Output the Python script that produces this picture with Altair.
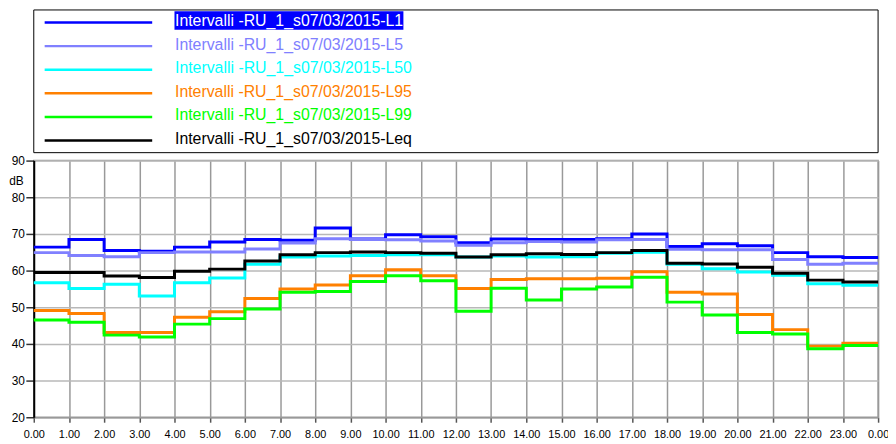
import altair as alt
import pandas as pd

hours = list(range(24))
series_names = [
    "Intervalli -RU_1_s07/03/2015-L1",
    "Intervalli -RU_1_s07/03/2015-L5",
    "Intervalli -RU_1_s07/03/2015-L50",
    "Intervalli -RU_1_s07/03/2015-L95",
    "Intervalli -RU_1_s07/03/2015-L99",
    "Intervalli -RU_1_s07/03/2015-Leq",
]
series_colors = ["#0000FF", "#8080FF", "#00FFFF", "#FF8000", "#00FF00", "#000000"]

L1 = [66.4, 68.5, 65.5, 65.3, 66.4, 67.8, 68.5, 68.3, 71.6, 68.6, 69.8, 69.2,
      67.6, 68.6, 68.5, 68.5, 68.7, 70.0, 66.6, 67.3, 66.8, 64.9, 63.8, 63.6]
L5 = [64.9, 64.1, 63.8, 64.9, 65.1, 65.1, 65.9, 67.5, 68.7, 68.5, 68.4, 68.1,
      66.9, 67.6, 67.9, 67.8, 68.4, 68.5, 65.8, 65.7, 65.7, 63.0, 61.7, 62.0]
L50 = [56.7, 55.1, 56.3, 53.1, 56.7, 58.0, 61.7, 63.7, 64.0, 64.1, 64.3, 64.3,
       63.7, 64.0, 63.7, 63.8, 64.7, 65.0, 61.7, 60.5, 59.6, 58.7, 56.4, 56.0]
L95 = [49.1, 48.3, 43.1, 43.1, 47.3, 48.8, 52.4, 55.0, 56.1, 58.6, 60.2, 58.6,
       55.1, 57.6, 57.8, 57.8, 57.9, 59.7, 54.1, 53.6, 48.0, 43.9, 39.4, 40.2]
L99 = [46.5, 45.9, 42.4, 41.9, 45.4, 46.9, 49.5, 54.1, 54.3, 57.0, 58.6, 57.2,
       48.9, 55.2, 52.0, 55.0, 55.5, 58.2, 51.4, 47.9, 43.1, 42.7, 38.7, 39.6]
Leq = [59.5, 59.5, 58.5, 58.1, 59.8, 60.4, 62.6, 64.3, 64.9, 65.1, 64.9, 64.7,
       63.7, 64.3, 64.6, 64.4, 64.9, 65.5, 62.0, 61.8, 60.9, 59.3, 57.4, 56.9]
y_ticks = [20, 30, 40, 50, 60, 70, 80, 90]
x_ticks = list(range(25))

all_series = [L1, L5, L50, L95, L99, Leq]
rows = []
for name, vals in zip(series_names, all_series):
    for h, v in zip(hours, vals):
        rows.append({"series": name, "hour": h, "value": v})
    rows.append({"series": name, "hour": 24, "value": vals[-1]})
df = pd.DataFrame(rows)

leg = pd.DataFrame({"series": series_names, "idx": list(range(len(series_names)))})

FONT = "Liberation Sans, Arial, sans-serif"
W, H = 852, 259

color_scale = alt.Scale(domain=series_names, range=series_colors)

lines = alt.Chart(df).mark_line(interpolate="step-after", strokeWidth=3).encode(
    x=alt.X("hour:Q", scale=alt.Scale(domain=[0, 24], nice=False),
            axis=alt.Axis(values=x_ticks, title=None,
                          labelExpr="datum.value == 24 ? '0.00' : format(datum.value, '.2f')")),
    y=alt.Y("value:Q", scale=alt.Scale(domain=[20, 90], nice=False, zero=False),
            axis=alt.Axis(values=y_ticks, title="dB", titleAngle=0, titleX=-18, titleY=20,
                          titleAlign="center", titleBaseline="middle", titleFont=FONT,
                          titleFontSize=12, titleFontWeight="normal", titleColor="#000",
                          domainColor="#000", domainWidth=2, tickSize=8, tickColor="#333",
                          labelPadding=1.5, labelFontSize=12, gridColor="#b8b8b8")),
    color=alt.Color("series:N", scale=color_scale, legend=None),
)

leg_y = alt.Y("idx:Q", scale=alt.Scale(domain=[0, 5], range=[-139.3, -20.3]), axis=None)

box = alt.Chart(leg).transform_filter(alt.datum.idx == 0).mark_rect(
    fill="white", stroke="black", strokeWidth=1
).encode(x=alt.value(0), x2=alt.value(W), y=alt.value(-152), y2=alt.value(-8))

highlight = alt.Chart(leg).transform_filter(alt.datum.idx == 0).mark_rect(
    fill="#0000FF"
).encode(x=alt.value(142), x2=alt.value(373), y=alt.value(-150.7), y2=alt.value(-132))

leg_lines = alt.Chart(leg).mark_rule(strokeWidth=2.5).encode(
    x=alt.value(11), x2=alt.value(119.5), y=leg_y,
    color=alt.Color("series:N", scale=color_scale, legend=None),
)

leg_text = alt.Chart(leg).mark_text(
    align="left", baseline="alphabetic", dy=3.5, fontSize=16, font=FONT
).encode(
    x=alt.value(142.5), y=leg_y, text="series:N",
    color=alt.condition(alt.datum.idx == 0, alt.value("white"),
                        alt.Color("series:N", scale=color_scale, legend=None)),
)

chart = alt.layer(lines, box, highlight, leg_lines, leg_text).resolve_scale(
    y="independent"
).properties(
    width=W, height=H,
    autosize=alt.AutoSizeParams(type="none"),
    padding={"left": 26, "top": 152, "right": 10, "bottom": 24},
    background="white",
).configure_view(stroke="#999999", strokeWidth=1.5).configure_axis(
    labelFont=FONT, labelColor="#000",
    gridColor="#999999", gridWidth=1.5,
    domainColor="#999999", domainWidth=1.5,
    tickColor="#555555", tickWidth=1.5,
).configure_axisX(tickSize=5, labelPadding=6, labelFontSize=11, labelFlush=False)

chart.save("out.html", embed_options={"renderer": "svg", "actions": False})
